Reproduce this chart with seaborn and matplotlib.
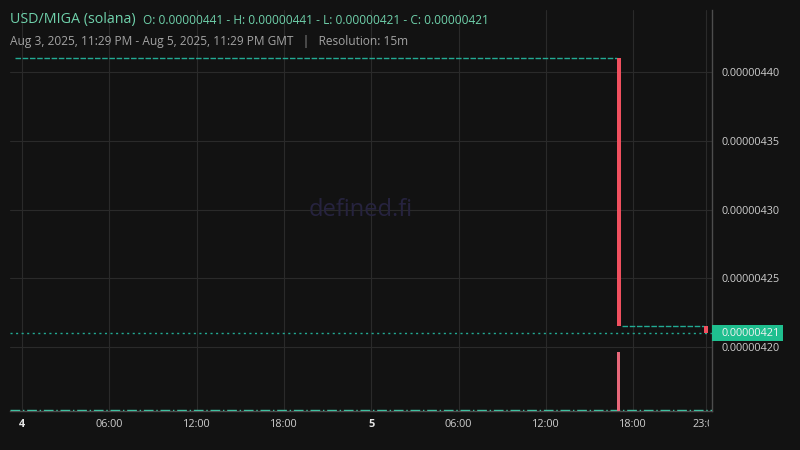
import pandas as pd
import matplotlib.pyplot as plt
import matplotlib.transforms as mtransforms
from matplotlib.patches import Rectangle
import seaborn as sns

# candles with an actual move (15m resolution)
candle_time = ['2025-08-05 17:00', '2025-08-05 23:00']
candle_open = [4.41e-6, 4.215e-6]
candle_close = [4.215e-6, 4.21e-6]
candle_volume = [1250.0, 0.0]

# flat stretches (open == close candles)
flat_start = ['2025-08-03 23:29', '2025-08-05 17:12']
flat_end = ['2025-08-05 16:54', '2025-08-05 22:54']
flat_price = [4.41e-6, 4.215e-6]

last_price = 4.21e-6
price_ticks = [4.20e-6, 4.25e-6, 4.30e-6, 4.35e-6, 4.40e-6]
x_ticks = ['2025-08-04 00:00', '2025-08-04 06:00', '2025-08-04 12:00', '2025-08-04 18:00',
           '2025-08-05 00:00', '2025-08-05 06:00', '2025-08-05 12:00', '2025-08-05 18:00',
           '2025-08-05 23:00']
x_labels = ['4', '06:00', '12:00', '18:00', '5', '06:00', '12:00', '18:00', '23:00']

bg = '#121212'
teal = '#22ab94'
red = '#f0505f'
grid_c = '#2a2a2a'
txt_c = '#cdcdcd'

sns.set_theme(style='dark', rc={'figure.facecolor': bg, 'axes.facecolor': bg,
                                'axes.edgecolor': '#4d4d4d', 'grid.color': grid_c})
plt.rcParams['font.family'] = ['Open Sans', 'DejaVu Sans']

fig = plt.figure(figsize=(8, 4.5), dpi=100)
ax = fig.add_axes([10 / 800, 39 / 450, 702 / 800, 401 / 450])

flat = pd.DataFrame({
    'time': pd.to_datetime(flat_start + flat_end),
    'price': flat_price + flat_price,
    'seg': [0, 1, 0, 1],
})
sns.lineplot(data=flat, x='time', y='price', units='seg', estimator=None, ax=ax,
             color=teal, lw=1, linestyle=(0, (4, 1.2)), legend=False)

ct = pd.to_datetime(candle_time)
w = 15 / 1440 * 1.1
bottoms = [min(o, c) for o, c in zip(candle_open, candle_close)]
heights = [abs(o - c) for o, c in zip(candle_open, candle_close)]
ax.bar(ct, heights, bottom=bottoms, width=w, color=red, edgecolor='none', lw=0, zorder=3)

ax.axhline(last_price, color=teal, lw=1, linestyle=(0, (1.5, 2.5)), zorder=2)

ax.set_xlim(pd.Timestamp('2025-08-03 23:10'), pd.Timestamp('2025-08-05 23:25'))
ax.set_ylim(4.1535e-6, 4.4451e-6)
ax.grid(True, color=grid_c, lw=0.8)
ax.set_xlabel('')
ax.set_ylabel('')

# volume pane
ax_vol = ax.twinx()
ax_vol.bar(ct, candle_volume, width=w * 0.7, color='#e8687a', edgecolor='none', lw=0, zorder=3)
ax_vol.set_ylim(0, candle_volume[0] * 401 / 59)
ax_vol.axhline(candle_volume[0] * 1.2 / 59, color='#3fbf9f', lw=1.0, linestyle=(0, (7, 2, 1, 2)))
ax_vol.set_yticks([])
ax_vol.grid(False)
for s in ax_vol.spines.values():
    s.set_visible(False)

ax.yaxis.tick_right()
ax.yaxis.set_label_position('right')
ax.set_yticks(price_ticks)
ax.set_yticklabels([f'{v:.8f}' for v in price_ticks])
ax.set_xticks(pd.to_datetime(x_ticks))
ax.set_xticklabels(x_labels)
ax.tick_params(axis='y', length=0, pad=7.2, labelsize=7.8, colors=txt_c,
               labelleft=False, labelright=True)
ax.tick_params(axis='x', length=0, pad=5.5, labelsize=7.8, colors=txt_c)
for lbl in ax.get_xticklabels():
    if lbl.get_text() in ('4', '5'):
        lbl.set_fontweight('bold')
        lbl.set_color('#e6e6e6')
clip = mtransforms.TransformedBbox(mtransforms.Bbox([[0, 0], [709 / 800, 1]]), fig.transFigure)
last_lbl = ax.get_xticklabels()[-1]
last_lbl.set_clip_box(clip)
last_lbl.set_clip_on(True)

for s in ['left', 'top']:
    ax.spines[s].set_visible(False)
for s in ['right', 'bottom']:
    ax.spines[s].set_color('#4d4d4d')
    ax.spines[s].set_linewidth(1)

# last price tag
tag_tr = mtransforms.blended_transform_factory(ax.transAxes, ax.transData)
ax.add_patch(Rectangle((1.0, last_price - 0.0058e-6), 71 / 702, 0.0116e-6, transform=tag_tr,
                       facecolor='#1fbf8f', edgecolor='none', clip_on=False, zorder=5))
ax.text(1.0 + 10 / 702, last_price, f'{last_price:.8f}', transform=tag_tr, ha='left',
        va='center', fontsize=7.8, color='#f2f2f2', zorder=6)

ax.text(0.5, 0.5, 'defined.fi', transform=ax.transAxes, ha='center', va='center',
        fontsize=17, color='#26233f', zorder=1)

t1 = fig.text(10 / 800, 1 - 20 / 450, 'USD/MIGA (solana)', fontsize=10.3, color='#6fd1ab',
              va='center', ha='left')
ax.annotate('O: 0.00000441 - H: 0.00000441 - L: 0.00000421 - C: 0.00000421',
            xy=(1, 0.5), xycoords=t1, xytext=(5, 0), textcoords='offset points',
            fontsize=8.6, color='#6fd1ab', va='center', ha='left')
fig.text(10 / 800, 1 - 41 / 450,
         'Aug 3, 2025, 11:29 PM - Aug 5, 2025, 11:29 PM GMT   |   Resolution: 15m',
         fontsize=8.6, color='#a3a3a3', va='center', ha='left')

fig.savefig('out.png', dpi=100, facecolor=bg)
